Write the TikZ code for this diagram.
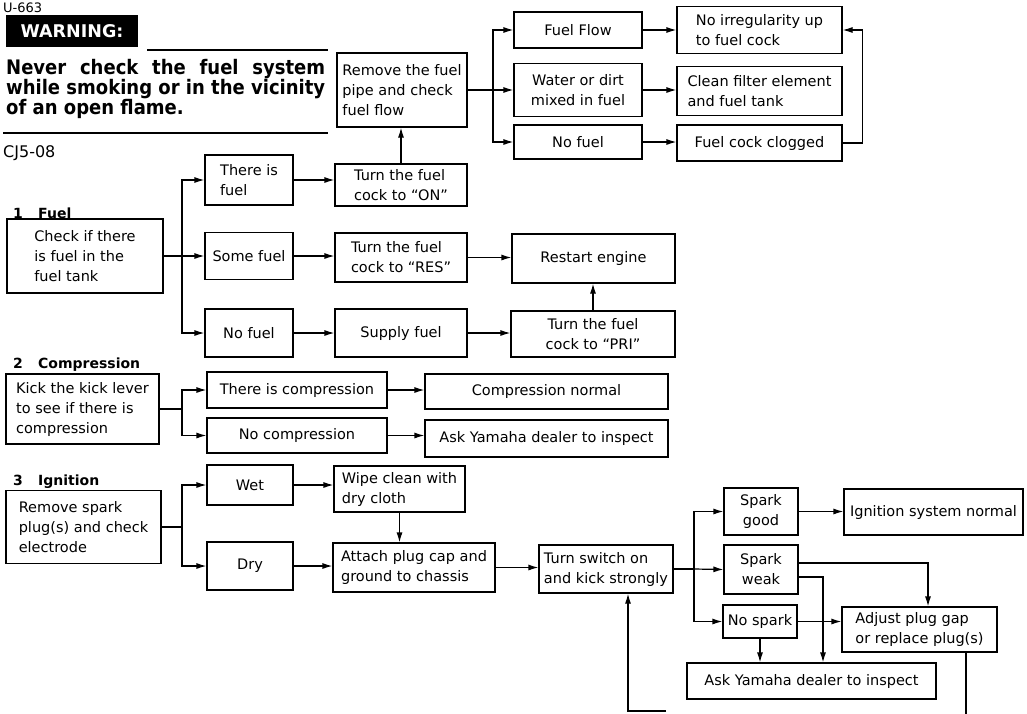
\documentclass[tikz,border=0pt]{standalone}
\usepackage{fontspec}
\setmainfont{DejaVu Sans}
\newfontfamily\warnfont{DejaVu Sans}[FakeStretch=0.9]
\usetikzlibrary{arrows.meta,calc}
\begin{document}
\begin{tikzpicture}[x=1pt,y=-1pt,
  bx/.style={draw,line width=1.2pt,inner sep=2pt,font=\fontsize{14.5}{20}\selectfont,align=center},
  bxl/.style={bx,align=left},
  sz/.style 2 args={minimum width=#1pt,minimum height=#2pt},
  ln/.style={line width=1.2pt},
  arr/.style={ln,-{Latex[length=10pt,width=6pt]}},
  hd/.style={font=\bfseries\fontsize{14}{16}\selectfont,anchor=base west,inner sep=0pt},
  wl/.style={font=\warnfont\bfseries\fontsize{20}{21}\selectfont,anchor=base west,inner sep=0pt},
  rule/.style={line width=2pt},
]
\useasboundingbox (0,0) rectangle (1027,713);

% ---------- header ----------
\node[anchor=base west,inner sep=0pt,font=\fontsize{13}{15}\selectfont] (code) at (3,12) {U-663};
\node[fill=black,text=white,sz={132}{32},inner sep=0pt,font=\bfseries\fontsize{17.5}{20}\selectfont] (warn) at (72,31) {WARNING:};
\coordinate (r1a) at (147,50); \coordinate (r1b) at (328,50);
\draw[rule] (r1a) -- (r1b);
\node[wl] (w1) at (6,74) {\makebox[319pt][s]{Never check the fuel system}};
\node[wl] (w2) at (6,94) {\makebox[319pt][s]{while smoking or in the vicinity}};
\node[wl] (w3) at (6,114) {of an open flame.};
\coordinate (r2a) at (3,133); \coordinate (r2b) at (328,133);
\draw[rule] (r2a) -- (r2b);
\node[anchor=base west,inner sep=0pt,font=\fontsize{16}{18}\selectfont] (cj) at (3,157) {CJ5-08};

\node[hd] (h1n) at (13,218) {1};
\node[hd] (h1) at (38,218) {Fuel};
\node[hd] (h2n) at (13,368) {2};
\node[hd] (h2) at (38,368) {Compression};
\node[hd] (h3n) at (13,485) {3};
\node[hd] (h3) at (38,485) {Ignition};

% ---------- 1 Fuel ----------
\node[bxl,sz={130}{74}] (rmv) at (402,90) {Remove the fuel\\pipe and check\\fuel flow};
\node[bx,sz={128}{36}] (ff) at (578,30) {Fuel Flow};
\node[bx,sz={128}{53}] (wd) at (578,90) {Water or dirt\\mixed in fuel};
\node[bx,sz={128}{34}] (nf1) at (578,142) {No fuel};
\node[bxl,sz={165}{47}] (nirr) at (759.5,30) {No irregularity up\\to fuel cock};
\node[bxl,sz={165}{49}] (cfe) at (759.5,91) {Clean filter element\\and fuel tank};
\node[bx,sz={165}{36}] (fcc) at (759.5,143) {Fuel cock clogged};

\node[bxl,sz={156}{74}] (chk) at (85,256) {Check if there\\is fuel in the\\fuel tank};
\node[bxl,sz={88}{50}] (tif) at (249,180) {There is\\fuel};
\node[bx,sz={88}{47}] (sf) at (249,256) {Some fuel};
\node[bx,sz={88}{48}] (nf2) at (249,333) {No fuel};
\node[bxl,sz={132}{42}] (on) at (401,185) {Turn the fuel\\cock to “ON”};
\node[bxl,sz={132}{49}] (res) at (401,257.5) {Turn the fuel\\cock to “RES”};
\node[bx,sz={132}{48}] (sup) at (401,333) {Supply fuel};
\node[bx,sz={163}{49}] (rst) at (593.5,258.5) {Restart engine};
\node[bx,sz={164}{46}] (pri) at (593,334) {Turn the fuel\\cock to “PRI”};

\coordinate (b1) at (493,90);
\draw[ln] (rmv.east) -- (b1);
\draw[arr] (b1) |- (ff.west);
\draw[arr] (b1) -- (wd.west);
\draw[arr] (b1) |- (nf1.west);
\draw[arr] (ff.east) -- (nirr.west);
\draw[arr] (wd.east) -- (wd.east -| cfe.west);
\draw[arr] (nf1.east) -- (nf1.east -| fcc.west);
\draw[arr] (fcc.east) -- ++(20,0) |- (nirr.east);

\coordinate (b2) at (182,256);
\draw[ln] (chk.east) -- (b2);
\draw[arr] (b2) |- (tif.west);
\draw[arr] (b2) -- (sf.west);
\draw[arr] (b2) |- (nf2.west);
\draw[arr] (tif.east) -- (tif.east -| on.west);
\draw[arr] (on.north) -- (on.north |- rmv.south);
\draw[arr] (sf.east) -- (sf.east -| res.west);
\draw[arr] (res.east) -- (res.east -| rst.west);
\draw[arr] (nf2.east) -- (nf2.east -| sup.west);
\draw[arr] (sup.east) -- (sup.east -| pri.west);
\draw[arr] (pri.north) -- (pri.north |- rst.south);

% ---------- 2 Compression ----------
\node[bxl,sz={153}{70}] (kick) at (82.5,409) {Kick the kick lever\\to see if there is\\compression};
\node[bx,sz={180}{36}] (tic) at (297,390) {There is compression};
\node[bx,sz={180}{35}] (nc) at (297,435.5) {No compression};
\node[bx,sz={243}{35}] (cn) at (546.5,391.5) {Compression normal};
\node[bx,sz={243}{37}] (ay1) at (546.5,438.5) {Ask Yamaha dealer to inspect};

\coordinate (b3) at (182,409);
\draw[ln] (kick.east) -- (b3);
\draw[arr] (b3) |- (tic.west);
\draw[arr] (b3) |- (nc.west);
\draw[arr] (tic.east) -- (tic.east -| cn.west);
\draw[arr] (nc.east) -- (nc.east -| ay1.west);

% ---------- 3 Ignition ----------
\node[bxl,sz={155}{73}] (rsp) at (83.5,527) {Remove spark\\plug(s) and check\\electrode};
\node[bx,sz={86}{40}] (wet) at (250,485) {Wet};
\node[bx,sz={86}{48}] (dry) at (250,566) {Dry};
\node[bxl,sz={131}{46}] (wipe) at (399.5,489) {Wipe clean with\\dry cloth};
\node[bxl,sz={162}{49}] (att) at (414,567.5) {Attach plug cap and\\ground to chassis};
\node[bxl,sz={134}{48}] (ts) at (606,569) {Turn switch on\\and kick strongly};
\node[bx,sz={74}{47}] (sg) at (761,511.5) {Spark\\good};
\node[bx,sz={179}{46}] (isn) at (933.5,512) {Ignition system normal};
\node[bx,sz={74}{49}] (sw) at (761,569.5) {Spark\\weak};
\node[bx,sz={74}{33}] (ns) at (760,621.5) {No spark};
\node[bxl,sz={155}{45}] (adj) at (919.5,629.5) {Adjust plug gap\\or replace plug(s)};
\node[bx,sz={249}{36}] (ay2) at (811.5,681) {Ask Yamaha dealer to inspect};

\coordinate (b4) at (182,527);
\draw[ln] (rsp.east) -- (b4);
\draw[arr] (b4) |- (wet.west);
\draw[arr] (b4) |- (dry.west);
\draw[arr] (wet.east) -- (wet.east -| wipe.west);
\draw[arr] (dry.east) -- (dry.east -| att.west);
\draw[arr] (wipe.south) -- (wipe.south |- att.north);
\draw[arr] (att.east) -- (att.east -| ts.west);

\coordinate (b5) at (694,569);
\draw[ln] (ts.east) -- (b5);
\draw[arr] (b5) |- (sg.west);
\draw[arr] (b5) -- (sw.west);
\draw[arr] (b5) |- (ns.west);
\draw[arr] (sg.east) -- (sg.east -| isn.west);
\draw[arr] ($(sw.east)+(0,-6.5)$) -| ([xshift=8.5pt]adj.north);
\draw[arr] ($(sw.east)+(0,7.5)$) -| ([xshift=11.5pt]ay2.north);
\draw[arr] (ns.east) -- (ns.east -| adj.west);
\draw[arr] (ns.south) -- (ns.south |- ay2.north);

\coordinate (adjdn) at (966,720);
\draw[ln] ([xshift=46.5pt]adj.south) -- (adjdn);
\coordinate (lpe) at (666,711);
\coordinate (lpc) at (628,711);
\draw[arr] (lpe) -- (lpc) -- (lpc |- ts.south);
\end{tikzpicture}
\end{document}
